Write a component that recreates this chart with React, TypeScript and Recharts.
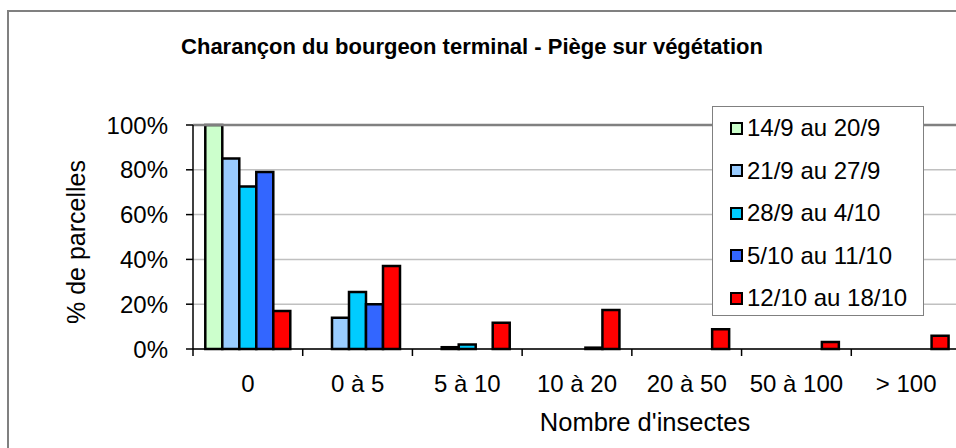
import React from 'react';
import {
  BarChart,
  Bar,
  XAxis,
  YAxis,
  CartesianGrid,
  Legend,
  ReferenceLine
} from 'recharts';

// categories (nombre d'insectes)
const classes = ['0', '0 à 5', '5 à 10', '10 à 20', '20 à 50', '50 à 100', '> 100'];

// % de parcelles per week
const sem1 = [100, 0, 0, 0, 0, 0, 0];
const sem2 = [85, 14, 0.8, 0, 0, 0, 0];
const sem3 = [72.5, 25.5, 2, 0, 0, 0, 0];
const sem4 = [79, 20, 0, 0.6, 0, 0, 0];
const sem5 = [17, 37, 11.7, 17.4, 8.8, 3.1, 5.9];

const series = [
  { key: 's1', name: '14/9 au 20/9', values: sem1, color: '#CCFFCC' },
  { key: 's2', name: '21/9 au 27/9', values: sem2, color: '#99CCFF' },
  { key: 's3', name: '28/9 au 4/10', values: sem3, color: '#00CCFF' },
  { key: 's4', name: '5/10 au 11/10', values: sem4, color: '#3366FF' },
  { key: 's5', name: '12/10 au 18/10', values: sem5, color: '#FF0000' }
];

const yTicks = [0, 20, 40, 60, 80, 100];

const data = classes.map((c, i) => {
  const row: Record<string, string | number> = { classe: c };
  series.forEach((s) => {
    row[s.key] = s.values[i];
  });
  return row;
});

const FONT = '"Liberation Sans", Arial, sans-serif';
const PLOT_LEFT = 193;
const PLOT_RIGHT = 961;
const PLOT_BOTTOM = 349;
const BAND = (PLOT_RIGHT - PLOT_LEFT) / classes.length;

const XTick = (props: any) => {
  const { x, payload } = props;
  return (
    <g>
      <line x1={x - BAND / 2} y1={PLOT_BOTTOM} x2={x - BAND / 2} y2={PLOT_BOTTOM + 7} stroke="#000" strokeWidth={1.5} />
      <text x={x} y={383} textAnchor="middle" dominantBaseline="central" fontSize={24} fontFamily={FONT} fill="#000">
        {payload.value}
      </text>
    </g>
  );
};

const XTitle = () => (
  <text x={645} y={422} textAnchor="middle" dominantBaseline="central" fontSize={25.5} fontFamily={FONT} fill="#000">
    Nombre d'insectes
  </text>
);

const YTitle = () => (
  <text
    x={76}
    y={242}
    transform="rotate(-90 76 242)"
    textAnchor="middle"
    dominantBaseline="central"
    fontSize={25}
    fontFamily={FONT}
    fill="#000"
  >
    % de parcelles
  </text>
);

const renderLegend = (props: any) => {
  // keep the legend in series order
  const payload = [...props.payload].sort(
    (a: any, b: any) => series.findIndex((s) => s.name === a.value) - series.findIndex((s) => s.name === b.value)
  );
  return (
    <div
      style={{
        width: 210,
        height: 208,
        border: '1.5px solid #808080',
        background: '#fff',
        boxSizing: 'content-box',
        fontFamily: FONT,
        fontSize: 24
      }}
    >
      {payload.map((p: any) => (
        <div key={p.value} style={{ height: 42.5, display: 'flex', alignItems: 'center', paddingLeft: 17 }}>
          <span
            style={{
              display: 'inline-block',
              width: 9,
              height: 9,
              background: p.color,
              border: '2px solid #000',
              marginRight: 4,
              flexShrink: 0
            }}
          />
          <span style={{ color: '#000', whiteSpace: 'nowrap' }}>{p.value}</span>
        </div>
      ))}
    </div>
  );
};

export default function App() {
  return (
    <div style={{ position: 'absolute', left: 0, top: 0, width: 956, height: 448, overflow: 'hidden', background: '#fff' }}>
      {/* chart frame, runs off the right and bottom edges */}
      <div style={{ position: 'absolute', left: 7, top: 10, width: 1100, height: 600, border: '2px solid #808080' }} />
      <div
        style={{
          position: 'absolute',
          left: 0,
          top: 33,
          width: 944,
          textAlign: 'center',
          fontFamily: FONT,
          fontWeight: 'bold',
          fontSize: 22,
          lineHeight: '28px'
        }}
      >
        Charançon du bourgeon terminal - Piège sur végétation
      </div>
      <div style={{ position: 'absolute', left: 0, top: 0 }}>
        <BarChart
          width={980}
          height={448}
          data={data}
          margin={{ top: 125, right: 980 - PLOT_RIGHT, left: PLOT_LEFT - 60, bottom: 448 - PLOT_BOTTOM - 60 }}
          barCategoryGap="11.2%"
          barGap={0}
        >
          <CartesianGrid vertical={false} stroke="#c0c0c0" strokeWidth={1.5} />
          <XAxis
            dataKey="classe"
            height={60}
            tickLine={false}
            axisLine={{ stroke: '#000', strokeWidth: 1.5 }}
            tick={<XTick />}
            interval={0}
            label={<XTitle />}
          />
          <YAxis
            width={60}
            domain={[0, 100]}
            ticks={yTicks}
            tickFormatter={(v) => `${v}%`}
            tickSize={7}
            tickMargin={18}
            tickLine={{ stroke: '#000', strokeWidth: 1.5 }}
            axisLine={{ stroke: '#000', strokeWidth: 1.5 }}
            tick={{ fontSize: 24, fontFamily: FONT, fill: '#000' }}
            label={<YTitle />}
          />
          <ReferenceLine y={100} stroke="#808080" strokeWidth={2.5} />
          <Legend
            layout="vertical"
            align="center"
            verticalAlign="middle"
            content={renderLegend}
            wrapperStyle={{ position: 'absolute', left: 712, top: 106, width: 'auto', height: 'auto' }}
          />
          {series.map((s) => (
            <Bar
              key={s.key}
              dataKey={s.key}
              name={s.name}
              fill={s.color}
              stroke="#000"
              strokeWidth={2.5}
              isAnimationActive={false}
            />
          ))}
        </BarChart>
      </div>
    </div>
  );
}
